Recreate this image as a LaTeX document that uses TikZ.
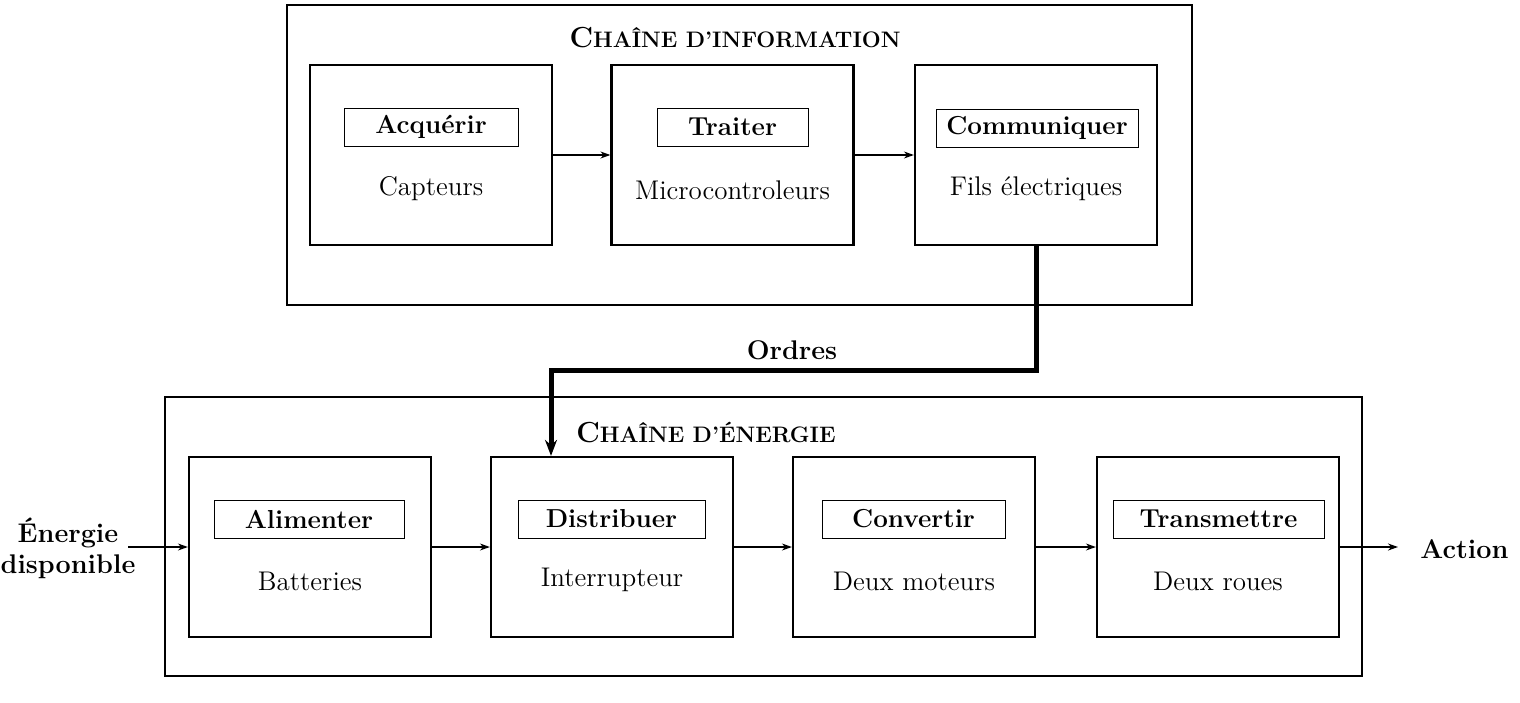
\documentclass[tikz,border=0pt]{standalone}
\usepackage{fontspec}
\usetikzlibrary{arrows.meta}
\newcommand{\fakesc}[2]{{\bfseries\fontsize{14.5}{18}\selectfont #1\fontsize{11.2}{18}\selectfont #2}}
\begin{document}
\begin{tikzpicture}[x=0.5pt,y=-0.5pt,
  fbox/.style={draw, line width=1.1pt, minimum width=121pt, minimum height=90pt, inner sep=0pt},
  lbox/.style={draw, line width=0.5pt, minimum height=19pt, inner sep=0pt, font=\fontsize{13}{15}\selectfont\bfseries},
  sub/.style={font=\fontsize{13.5}{16}\selectfont},
  outerbox/.style={draw, line width=0.8pt, inner sep=0pt},
  flow/.style={-{Stealth[length=5pt,width=3.5pt]}, line width=0.7pt},
  ordres/.style={-{Stealth[length=8pt,width=6pt]}, line width=2.5pt},
  blab/.style={font=\fontsize{13.5}{15.5}\selectfont\bfseries, align=center, inner sep=0pt}]
\useasboundingbox (0,0) rectangle (1520,702);
% outer boxes
\node[outerbox, minimum width=452.5pt, minimum height=150pt] (info) at (739.5,155) {};
\node[outerbox, minimum width=598.5pt, minimum height=139.5pt] (ener) at (763.5,536.5) {};
\node (tinfo) at (735,38) {\fakesc{C}{HAÎNE D’INFORMATION}};
\node (tener) at (706,432) {\fakesc{C}{HAÎNE D’ÉNERGIE}};
% information chain
\node[fbox] (acq) at (431,155) {};
\node[fbox] (trait) at (732.5,155) {};
\node[fbox] (comm) at (1036,155) {};
\node[lbox, minimum width=87pt] (lacq) at (431,127) {Acquérir};
\node[lbox, minimum width=75.5pt] (ltrait) at (732.5,127) {Traiter};
\node[lbox, minimum width=101pt] (lcomm) at (1037,128) {Communiquer};
\node[sub] (sacq) at (431,189) {Capteurs};
\node[sub] (strait) at (732.5,190) {Microcontroleurs};
\node[sub] (scomm) at (1036,189) {Fils électriques};
\draw[flow] (acq.east) -- (trait.west);
\draw[flow] (trait.east) -- (comm.west);
% energy chain
\node[fbox] (alim) at (310,547) {};
\node[fbox] (dist) at (612,547) {};
\node[fbox] (conv) at (914,547) {};
\node[fbox] (trans) at (1218,547) {};
\node[lbox, minimum width=95pt] (lalim) at (309,519) {Alimenter};
\node[lbox, minimum width=93.5pt] (ldist) at (611.5,519) {Distribuer};
\node[lbox, minimum width=91.5pt] (lconv) at (913.5,519) {Convertir};
\node[lbox, minimum width=105.5pt] (ltrans) at (1218.5,519) {Transmettre};
\node[sub] (salim) at (310,581) {Batteries};
\node[sub] (sdist) at (612,580) {Interrupteur};
\node[sub] (sconv) at (914,581) {Deux moteurs};
\node[sub] (strans) at (1218,581) {Deux roues};
\draw[flow] (alim.east) -- (dist.west);
\draw[flow] (dist.east) -- (conv.west);
\draw[flow] (conv.east) -- (trans.west);
% input / output
\node[blab] (edisp) at (68,548) {Énergie\\disponible};
\coordinate (ein) at (128,547);
\draw[flow] (ein) -- (alim.west);
\coordinate (aout) at (1398,547);
\draw[flow] (trans.east) -- (aout);
\node[blab, anchor=west] (action) at (1420,549) {Action};
% ordres
\coordinate (obend) at (551,370);
\draw[ordres] (comm.south) |- (obend) -- (dist.north -| obend);
\node[blab] (ordlab) at (792,350) {Ordres};
\end{tikzpicture}
\end{document}
